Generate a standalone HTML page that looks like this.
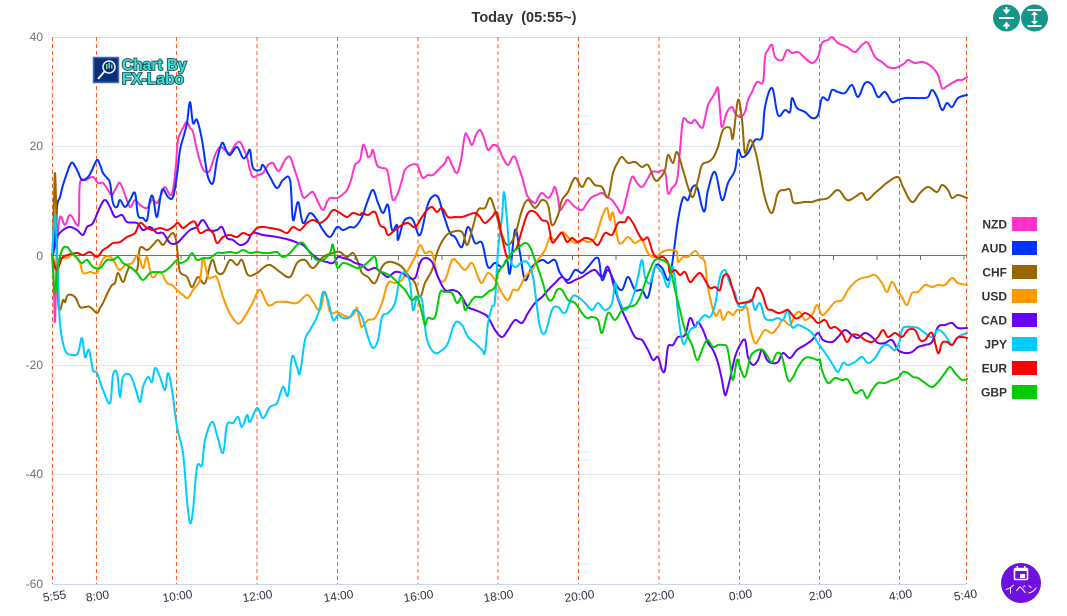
<!DOCTYPE html>
<html>
<head>
<meta charset="utf-8">
<style>
html,body{margin:0;padding:0;background:#fff;}
body{width:1067px;height:616px;overflow:hidden;}
svg{display:block;}
text{font-family:"Liberation Sans","Noto Sans CJK JP",sans-serif;}
</style>
</head>
<body>
<svg id="chart" width="1067" height="616" viewBox="0 0 1067 616" xmlns="http://www.w3.org/2000/svg">
<rect width="1067" height="616" fill="#fff"/>

<!-- title -->
<text x="524" y="22" text-anchor="middle" font-size="14.5" font-weight="bold" fill="#333">Today&#160;&#160;(05:55~)</text>

<!-- grid -->
<g stroke="#e0e6f1" stroke-width="1">
<line x1="53" y1="37.5" x2="966" y2="37.5" stroke="#d6ddef"/>
<line x1="53" y1="146.5" x2="966" y2="146.5"/>
<line x1="53" y1="365.5" x2="966" y2="365.5"/>
<line x1="53" y1="474.5" x2="966" y2="474.5"/>
<line x1="53" y1="584.5" x2="966" y2="584.5" stroke="#ccd6eb"/>
</g>

<!-- y labels -->
<g font-size="12" fill="#6e7079" text-anchor="end">
<text x="43" y="41">40</text>
<text x="43" y="150">20</text>
<text x="43" y="260">0</text>
<text x="43" y="369">-20</text>
<text x="43" y="478">-40</text>
<text x="43" y="588">-60</text>
</g>

<!-- vertical dashed time lines -->
<g stroke="#ff5a26" stroke-width="1" stroke-dasharray="4,3">
<line x1="52.5" y1="37" x2="52.5" y2="584"/>
<line x1="96.5" y1="37" x2="96.5" y2="584"/>
<line x1="176.5" y1="37" x2="176.5" y2="584"/>
<line x1="257" y1="37" x2="257" y2="584"/>
<line x1="337.5" y1="37" x2="337.5" y2="584"/>
<line x1="418" y1="37" x2="418" y2="584"/>
<line x1="498" y1="37" x2="498" y2="584"/>
<line x1="578.5" y1="37" x2="578.5" y2="584"/>
<line x1="659" y1="37" x2="659" y2="584"/>
<line x1="739.5" y1="37" x2="739.5" y2="584"/>
<line x1="819.5" y1="37" x2="819.5" y2="584"/>
<line x1="899.5" y1="37" x2="899.5" y2="584"/>
<line x1="966.5" y1="37" x2="966.5" y2="584"/>
</g>

<!-- zero axis -->
<line x1="53" y1="255.5" x2="966" y2="255.5" stroke="#6e7079" stroke-width="1"/>
<g stroke="#6e7079" stroke-width="1">
<line x1="94" y1="255.5" x2="94" y2="260"/><line x1="137.5" y1="255.5" x2="137.5" y2="260"/><line x1="181" y1="255.5" x2="181" y2="260"/><line x1="224.5" y1="255.5" x2="224.5" y2="260"/><line x1="268" y1="255.5" x2="268" y2="260"/><line x1="311.5" y1="255.5" x2="311.5" y2="260"/><line x1="355" y1="255.5" x2="355" y2="260"/><line x1="398.5" y1="255.5" x2="398.5" y2="260"/><line x1="442" y1="255.5" x2="442" y2="260"/><line x1="485.5" y1="255.5" x2="485.5" y2="260"/><line x1="529" y1="255.5" x2="529" y2="260"/><line x1="572.5" y1="255.5" x2="572.5" y2="260"/><line x1="616" y1="255.5" x2="616" y2="260"/><line x1="659.5" y1="255.5" x2="659.5" y2="260"/><line x1="703" y1="255.5" x2="703" y2="260"/><line x1="746.5" y1="255.5" x2="746.5" y2="260"/><line x1="790" y1="255.5" x2="790" y2="260"/><line x1="833.5" y1="255.5" x2="833.5" y2="260"/><line x1="877" y1="255.5" x2="877" y2="260"/><line x1="920.5" y1="255.5" x2="920.5" y2="260"/><line x1="964" y1="255.5" x2="964" y2="260"/>
</g>

<!-- x labels -->
<g font-size="12" fill="#2f3340" text-anchor="middle">
<text transform="translate(55,600) rotate(-8)">5:55</text>
<text transform="translate(98,600) rotate(-8)">8:00</text>
<text transform="translate(178,600) rotate(-8)">10:00</text>
<text transform="translate(258,600) rotate(-8)">12:00</text>
<text transform="translate(339,600) rotate(-8)">14:00</text>
<text transform="translate(419,600) rotate(-8)">16:00</text>
<text transform="translate(499,600) rotate(-8)">18:00</text>
<text transform="translate(580,600) rotate(-8)">20:00</text>
<text transform="translate(660,600) rotate(-8)">22:00</text>
<text transform="translate(741,599) rotate(-8)">0:00</text>
<text transform="translate(821,599) rotate(-8)">2:00</text>
<text transform="translate(901,599) rotate(-8)">4:00</text>
<text transform="translate(966,599) rotate(-8)">5:40</text>
</g>

<!-- logo -->
<g>
<rect x="93" y="57" width="26" height="26" fill="#12449a" stroke="#7fa6d8" stroke-width="0.8"/>
<rect x="95" y="59" width="22" height="22" fill="#0c2f78"/>
<circle cx="109" cy="67" r="6" fill="none" stroke="#e8f0ff" stroke-width="1.5"/>
<line x1="104.5" y1="71.5" x2="98" y2="79" stroke="#e8f0ff" stroke-width="2"/>
<rect x="106" y="64" width="1.5" height="5" fill="#6ee07a"/>
<rect x="108.5" y="62.5" width="1.5" height="6" fill="#6ee07a"/>
<rect x="111" y="64.5" width="1.5" height="4" fill="#6ee07a"/>
<g font-size="15.5" font-weight="bold" fill="#35e0d8" stroke="#1d4f55" stroke-width="1.8" paint-order="stroke">
<text x="122" y="70">Chart By</text>
<text x="122" y="84">FX-Labo</text>
</g>
</g>

<!-- series -->
<g id="series" fill="none" stroke-width="2" stroke-linejoin="round" stroke-linecap="round">
<polyline stroke="#ff33cc" points="53,255 54,290 55,322 56,280 57,245 60,217 65,225 70,215 77,225 79,220 80,183 86,180 93,177 98,183 103,183 108,190 112,195 116,188 120,183 125,195 130,207 135,200 140,205 147,208 152,200 157,203 161,195 165,187 170,195 173,190 176,165 178,140 183,128 187,122 190,128 193,132 197,150 202,167 206,172 210,170 215,155 220,147 225,150 230,153 235,145 240,142 244,150 247,157 250,170 253,177 258,175 263,173 268,165 273,163 277,170 280,170 285,160 290,157 294,168 298,180 303,197 308,195 313,192 318,202 323,210 327,202 330,198 337,198 342,195 347,190 351,180 355,165 360,160 363,145 366,150 368,157 371,155 373,150 377,165 382,168 387,170 390,185 393,200 398,193 402,180 405,170 411,165 417,165 420,172 423,178 428,175 433,175 440,168 445,163 448,157 452,165 457,173 461,160 465,135 468,137 472,145 476,135 480,130 484,138 488,150 493,145 498,147 503,158 508,165 512,158 515,157 518,165 522,177 525,188 528,197 535,203 538,198 542,193 548,198 552,193 555,187 558,198 560,210 565,203 568,200 575,207 582,210 587,203 592,197 597,195 602,193 607,197 612,200 617,207 622,213 627,195 632,177 637,183 642,187 647,180 652,172 658,172 665,172 668,193 672,188 677,180 680,150 683,120 688,122 692,123 695,120 702,128 705,118 708,105 712,98 715,93 718,88 720,110 722,127 727,112 732,107 735,113 740,117 745,112 748,100 752,92 757,82 763,82 765,57 768,50 772,45 775,57 782,60 787,50 792,53 798,52 805,58 812,63 818,57 822,43 828,40 832,37 838,43 847,47 855,52 862,45 868,43 875,57 882,62 888,67 895,68 900,66 905,63 908,60 915,63 923,62 932,67 938,75 942,88 947,86 952,83 958,80 962,80 967,77"/>
<polyline stroke="#0033ff" points="53,255 54,240 55,228 56,245 57,207 60,197 63,185 67,173 70,165 73,163 78,172 82,180 88,177 92,170 97,160 100,165 103,173 107,178 110,183 113,203 117,207 120,200 125,207 130,200 135,193 138,215 143,218 147,220 150,200 153,197 157,217 162,190 168,197 173,197 177,175 180,150 184,135 187,123 190,102 193,123 197,120 202,140 205,160 208,177 213,183 217,160 222,143 226,150 230,155 237,147 243,158 247,155 250,150 253,168 260,170 263,165 270,177 277,188 283,180 290,180 293,220 298,202 303,223 310,213 317,220 323,230 330,237 337,227 343,230 350,227 355,227 362,217 368,200 373,190 378,203 383,213 388,205 392,230 397,225 398,240 403,223 408,218 413,220 420,235 427,207 432,197 438,197 443,213 450,233 455,237 462,247 468,227 475,243 482,243 488,267 495,263 502,267 507,260 510,273 515,230 520,253 525,280 532,267 542,260 548,263 555,260 560,273 568,280 575,270 582,273 588,267 598,258 602,280 608,270 615,283 622,290 628,277 635,290 642,290 648,297 655,267 662,268 668,280 672,265 678,220 683,198 688,200 692,188 697,187 702,207 705,210 708,190 715,172 722,200 728,183 735,170 738,150 742,157 748,153 755,140 762,137 765,107 772,88 778,115 785,110 790,112 792,98 797,108 805,112 812,118 818,115 822,98 828,100 832,90 838,92 845,93 852,85 858,97 865,83 872,85 878,97 885,92 892,102 898,100 905,98 912,98 922,98 928,97 932,90 937,97 942,110 947,103 952,107 958,98 967,95"/>
<polyline stroke="#996600" points="52,255 53,240 54,200 55,173 56,200 57,255 58,300 60,310 63,300 65,302 68,295 75,297 80,307 85,307 90,307 97,313 100,308 103,303 108,292 112,285 115,283 118,273 123,282 127,272 130,267 137,270 140,248 147,250 153,245 158,240 163,245 168,238 173,233 176,240 178,257 180,272 187,277 192,287 198,277 205,283 212,260 217,272 223,273 230,260 237,265 242,260 248,275 257,273 263,268 270,265 280,272 290,277 297,263 305,260 313,268 323,257 333,253 340,252 347,257 353,253 358,262 362,273 368,277 375,283 382,267 388,262 395,263 402,267 408,275 415,283 420,297 425,283 432,270 438,250 445,237 452,232 462,232 467,245 472,230 478,210 485,208 490,198 495,210 502,235 508,245 515,235 522,210 528,200 535,208 542,200 548,205 552,225 558,215 562,200 568,192 575,178 582,187 588,178 595,185 602,187 608,197 613,173 618,162 622,157 628,163 635,162 642,167 648,165 655,180 660,178 665,170 668,155 673,163 677,152 683,170 688,187 693,197 698,180 702,165 708,162 713,158 718,147 723,130 730,128 733,138 738,100 742,120 745,153 750,140 755,150 760,173 765,198 772,213 778,193 785,190 790,190 793,202 798,203 805,202 812,202 818,200 828,198 838,190 847,200 855,197 862,193 867,200 875,193 882,187 888,182 898,177 903,187 912,202 920,193 928,187 937,192 942,185 948,190 952,198 958,195 967,198"/>
<polyline stroke="#ff9900" points="53,255 55,265 57,260 62,258 67,258 73,255 80,263 83,273 90,272 97,273 100,265 105,257 112,258 117,267 120,270 125,265 132,263 138,255 143,268 147,257 152,277 160,272 167,283 172,285 177,290 183,295 188,298 193,290 200,280 203,258 208,277 213,277 217,278 223,297 228,310 232,317 236,322 240,323 247,313 253,302 260,290 268,305 277,302 287,302 297,303 307,295 313,302 320,310 325,292 330,312 337,312 343,315 350,317 355,312 357,308 360,322 362,327 368,320 375,318 382,303 388,283 395,283 402,280 408,270 415,257 420,245 425,253 432,253 438,277 445,280 452,260 458,263 465,270 472,263 478,277 482,283 488,273 495,280 502,293 508,300 513,290 518,290 525,277 532,270 538,260 545,250 550,237 555,240 562,232 568,237 575,243 582,240 588,242 595,238 602,217 607,208 610,220 613,213 618,240 622,243 628,237 635,243 642,240 648,253 655,257 662,252 668,250 672,250 677,252 678,262 683,257 688,257 695,251 700,257 705,263 708,288 715,315 720,310 723,320 728,312 733,315 737,310 742,310 747,308 750,327 755,343 760,337 765,330 772,333 778,327 783,320 790,325 795,315 800,312 805,320 812,315 817,305 822,315 828,310 835,302 842,300 848,290 855,282 862,278 868,277 875,275 882,283 887,292 892,282 898,292 902,297 907,305 912,293 918,292 925,285 932,287 938,285 945,285 952,278 958,283 967,285"/>
<polyline stroke="#6600ff" points="53,255 55,245 57,237 63,230 70,227 77,230 83,235 87,227 93,223 100,207 105,200 110,207 115,217 122,215 127,222 137,223 143,230 150,227 157,233 163,233 170,243 177,243 183,237 190,230 197,227 203,220 210,230 217,230 222,227 227,238 233,240 240,245 247,242 253,233 263,235 277,237 290,240 298,243 303,245 308,250 313,255 320,260 327,262 333,263 338,257 343,258 350,260 355,263 362,265 368,270 375,268 382,273 388,277 395,272 402,273 408,277 415,278 420,263 425,258 432,262 438,277 445,290 452,290 458,292 462,297 468,307 475,310 482,313 488,317 495,330 502,337 508,330 515,320 522,323 528,313 535,303 542,297 548,290 555,283 562,277 568,283 575,280 582,277 588,273 595,270 602,277 608,267 615,290 622,310 628,323 635,337 642,340 648,350 653,360 658,357 662,370 665,370 668,347 673,345 678,337 685,335 690,318 695,327 698,322 703,330 708,343 713,350 718,363 722,380 725,395 728,387 732,370 735,357 740,345 745,340 748,357 753,365 758,360 762,350 767,360 772,363 778,362 783,353 790,358 797,350 805,345 812,340 818,333 823,340 832,342 838,337 845,330 852,335 858,338 865,333 872,337 878,343 885,343 892,340 898,350 905,353 912,352 918,347 925,345 932,342 938,327 945,325 952,323 958,328 967,328"/>
<polyline stroke="#00ccff" points="52,255 53,240 55,215 56,230 58,273 60,323 65,350 73,355 78,353 82,338 85,357 89,350 93,370 97,373 103,390 110,403 113,375 117,373 120,397 123,377 130,375 135,387 140,402 143,387 148,377 152,382 155,368 160,377 165,390 168,373 172,390 177,427 183,453 187,500 190,523 193,510 197,467 202,465 205,440 212,422 217,435 223,453 227,425 233,423 238,417 242,427 247,415 250,422 257,408 263,418 270,407 277,403 283,387 288,395 292,357 297,367 300,373 305,340 310,330 317,317 320,307 323,292 328,300 333,320 338,315 343,318 350,317 355,310 362,317 368,337 373,348 378,340 382,317 388,313 395,303 400,277 405,273 410,283 413,310 417,297 422,300 425,327 428,343 435,353 442,350 448,343 455,323 462,325 468,337 475,343 482,350 485,352 488,323 492,307 495,300 498,250 502,217 504,192 507,220 510,257 515,267 522,262 528,263 533,277 537,307 540,327 545,333 552,310 558,307 565,313 572,297 578,297 585,303 592,310 598,303 605,310 612,303 615,283 618,297 625,310 632,300 638,277 642,260 645,277 650,283 655,267 662,273 668,287 672,267 675,280 678,313 682,340 685,343 690,330 695,327 700,320 705,315 710,317 715,305 720,277 725,270 728,278 732,288 735,293 738,305 743,307 748,302 752,300 755,310 760,303 765,318 772,320 778,318 783,320 788,310 792,327 798,325 805,328 812,333 818,343 823,350 828,357 833,365 838,372 843,363 848,365 855,362 862,357 868,363 875,358 882,347 888,345 895,350 900,340 903,328 912,327 918,328 925,333 932,337 938,330 945,335 952,345 958,337 967,333"/>
<polyline stroke="#ff0000" points="52,255 53,260 57,270 62,258 68,255 77,253 83,255 90,252 97,257 103,250 108,247 113,243 120,242 127,237 135,233 140,223 147,228 153,230 160,228 167,230 173,227 178,223 183,228 190,223 195,222 200,233 207,230 213,233 217,243 223,237 230,235 237,237 243,233 250,235 257,228 263,227 270,228 280,230 287,233 293,227 300,230 307,223 313,220 320,223 327,218 333,210 340,213 347,217 353,213 360,215 362,213 368,215 375,212 380,225 385,228 388,235 395,230 402,225 408,223 415,227 422,217 427,210 432,207 437,212 442,208 448,217 455,217 462,217 468,215 475,213 480,217 485,223 492,217 497,213 502,237 507,257 512,253 517,247 522,230 528,213 535,212 542,220 548,223 552,242 557,238 562,233 567,242 572,238 578,242 585,238 592,240 598,245 605,233 612,235 618,223 625,222 628,217 633,223 638,233 643,240 648,238 653,253 658,258 663,257 668,263 670,273 675,270 680,275 685,272 690,282 695,277 700,273 705,280 710,288 715,287 720,290 723,277 728,275 732,287 737,302 742,303 747,302 752,300 757,288 762,293 767,308 772,310 778,313 783,312 788,310 795,318 800,317 805,313 812,317 818,323 825,320 830,328 835,327 842,333 847,342 852,335 858,335 865,340 872,342 878,337 883,330 888,337 895,333 902,337 908,330 915,330 920,340 925,340 932,333 938,353 942,343 947,342 952,345 957,338 962,337 967,338"/>
<polyline stroke="#00cc00" points="52,255 53,270 55,293 58,267 62,250 67,247 72,253 77,258 82,263 87,260 93,267 100,268 107,260 113,260 118,257 123,263 130,267 137,273 143,280 150,273 155,272 163,272 170,267 177,260 180,263 187,260 192,253 197,260 203,258 210,258 217,253 223,253 230,252 237,253 243,250 250,253 257,252 263,253 270,253 277,252 283,257 290,253 297,245 303,243 310,253 317,260 323,260 330,253 333,245 337,267 343,263 350,265 357,268 362,267 368,262 375,257 378,270 385,273 392,277 398,283 405,290 412,300 417,297 422,313 425,325 428,318 435,317 440,293 445,292 452,293 457,303 462,297 465,310 470,303 475,297 482,297 488,292 495,287 498,273 505,263 512,253 518,248 525,243 530,247 535,260 542,280 547,297 552,300 557,290 562,290 568,300 575,303 582,313 587,318 592,317 598,320 602,333 608,313 615,320 622,310 628,307 635,305 640,297 645,283 650,270 655,260 662,260 667,263 670,267 675,290 680,310 685,330 692,345 697,360 702,350 705,343 708,340 713,347 718,345 723,345 727,347 730,363 733,380 737,360 740,367 745,377 750,358 753,353 758,350 763,350 768,357 772,362 777,353 782,357 788,380 793,377 798,367 805,358 812,358 817,360 820,360 822,370 828,383 835,378 842,380 848,380 855,393 862,390 867,398 872,390 878,383 885,383 892,380 898,378 903,372 908,373 913,377 918,378 925,383 932,387 938,382 945,373 950,367 955,373 962,380 967,379"/>
</g>

<!-- legend -->
<g font-size="12" font-weight="bold" fill="#333" text-anchor="end">
<text x="1007" y="228.5">NZD</text>
<text x="1007" y="252.5">AUD</text>
<text x="1007" y="276.5">CHF</text>
<text x="1007" y="300.5">USD</text>
<text x="1007" y="324.5">CAD</text>
<text x="1007" y="348.5">JPY</text>
<text x="1007" y="372.5">EUR</text>
<text x="1007" y="396.5">GBP</text>
</g>
<rect x="1012" y="217" width="25" height="14" fill="#ff33cc"/>
<rect x="1012" y="241" width="25" height="14" fill="#0033ff"/>
<rect x="1012" y="265" width="25" height="14" fill="#996600"/>
<rect x="1012" y="289" width="25" height="14" fill="#ff9900"/>
<rect x="1012" y="313" width="25" height="14" fill="#6600ff"/>
<rect x="1012" y="337" width="25" height="14" fill="#00ccff"/>
<rect x="1012" y="361" width="25" height="14" fill="#ff0000"/>
<rect x="1012" y="385" width="25" height="14" fill="#00cc00"/>

<!-- top right buttons -->
<circle cx="1006.5" cy="18" r="13.5" fill="#139688"/>
<circle cx="1034.5" cy="18" r="13.5" fill="#139688"/>
<g fill="#fff" stroke="none">
<rect x="999" y="17" width="15" height="2"/>
<polygon points="1002.5,9.5 1010.5,9.5 1006.5,14.5"/>
<rect x="1005.6" y="7" width="1.8" height="4"/>
<polygon points="1002.5,26.5 1010.5,26.5 1006.5,21.5"/>
<rect x="1005.6" y="25" width="1.8" height="4"/>
<rect x="1027.5" y="9" width="14" height="2"/>
<rect x="1027.5" y="25" width="14" height="2"/>
<rect x="1033.7" y="13" width="1.6" height="10"/>
<polygon points="1031,15 1038,15 1034.5,11.5"/>
<polygon points="1031,21 1038,21 1034.5,24.5"/>
</g>

<!-- event button -->
<circle cx="1021" cy="583" r="20" fill="#6e11e0"/>
<g fill="none" stroke="#fff" stroke-width="1.6">
<rect x="1014.5" y="568.5" width="13" height="11" rx="1"/>
</g>
<rect x="1014.5" y="568" width="13" height="3" fill="#fff"/>
<rect x="1016.5" y="566" width="1.6" height="3" fill="#fff"/>
<rect x="1024" y="566" width="1.6" height="3" fill="#fff"/>
<rect x="1020" y="574" width="5" height="4" fill="#fff"/>
<text x="1021" y="593" font-size="11" fill="#fff" text-anchor="middle" font-family="Liberation Sans, Noto Sans CJK JP, sans-serif">イベン</text>
</svg>
<script>
(function(){
  var g=document.getElementById('series');
  if(!g)return;
  var pls=g.querySelectorAll('polyline');
  for(var i=0;i<pls.length;i++){
    var pl=pls[i];
    var raw=pl.getAttribute('points').trim().split(/\s+/);
    var p=[];
    for(var j=0;j<raw.length;j++){var c=raw[j].split(',');p.push([+c[0],+c[1]]);}
    var d='M'+p[0][0]+','+p[0][1];
    var t=0.18;
    for(var k=0;k<p.length-1;k++){
      var p0=p[k-1]||p[k],p1=p[k],p2=p[k+1],p3=p[k+2]||p2;
      var c1x=p1[0]+(p2[0]-p0[0])*t,c1y=p1[1]+(p2[1]-p0[1])*t;
      var c2x=p2[0]-(p3[0]-p1[0])*t,c2y=p2[1]-(p3[1]-p1[1])*t;
      d+=' C'+c1x.toFixed(1)+','+c1y.toFixed(1)+' '+c2x.toFixed(1)+','+c2y.toFixed(1)+' '+p2[0]+','+p2[1];
    }
    var path=document.createElementNS('http://www.w3.org/2000/svg','path');
    path.setAttribute('d',d);
    path.setAttribute('stroke',pl.getAttribute('stroke'));
    g.replaceChild(path,pl);
  }
})();
</script>
</body>
</html>
